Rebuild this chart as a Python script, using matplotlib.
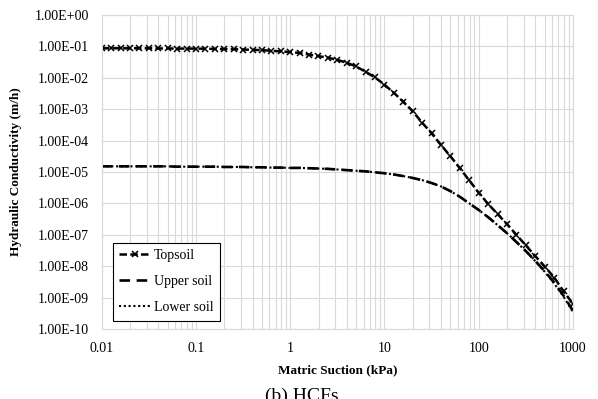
import numpy as np
import matplotlib.pyplot as plt
from matplotlib.ticker import FixedLocator, FuncFormatter, LogLocator, NullFormatter

plt.rcParams['font.family'] = ['Liberation Serif', 'DejaVu Serif']

# matric suction (kPa), log-spaced, 10 points per decade
suction = 10 ** np.round(np.arange(-2.0, 3.01, 0.1), 1)

# -log10 of hydraulic conductivity (m/h)
topsoil_nlog = [1.06, 1.06, 1.06, 1.06, 1.06, 1.06, 1.065, 1.065, 1.07, 1.07,
                1.07, 1.075, 1.08, 1.085, 1.09, 1.10, 1.11, 1.12, 1.14, 1.16,
                1.18, 1.21, 1.26, 1.31, 1.36, 1.43, 1.52, 1.64, 1.81, 1.99,
                2.22, 2.48, 2.76, 3.07, 3.43, 3.77, 4.14, 4.50, 4.88, 5.27,
                5.66, 6.02, 6.34, 6.66, 7.00, 7.34, 7.68, 8.01, 8.36, 8.80,
                9.20]
upper_nlog = [4.82, 4.82, 4.82, 4.82, 4.82, 4.82, 4.82, 4.82, 4.83, 4.83,
              4.83, 4.83, 4.83, 4.84, 4.84, 4.84, 4.85, 4.85, 4.86, 4.86,
              4.87, 4.87, 4.88, 4.89, 4.90, 4.92, 4.94, 4.96, 4.98, 5.01,
              5.04, 5.08, 5.13, 5.19, 5.26, 5.35, 5.46, 5.61, 5.79, 6.00,
              6.21, 6.44, 6.69, 6.95, 7.23, 7.52, 7.83, 8.16, 8.52, 8.94,
              9.42]
lower_nlog = [4.82, 4.82, 4.82, 4.82, 4.82, 4.82, 4.82, 4.82, 4.83, 4.83,
              4.83, 4.83, 4.83, 4.84, 4.84, 4.84, 4.85, 4.85, 4.86, 4.86,
              4.87, 4.87, 4.88, 4.89, 4.90, 4.92, 4.94, 4.96, 4.98, 5.01,
              5.04, 5.08, 5.13, 5.19, 5.26, 5.35, 5.46, 5.61, 5.79, 6.00,
              6.21, 6.44, 6.69, 6.95, 7.23, 7.52, 7.84, 8.18, 8.55, 8.97,
              9.46]

topsoil = 10 ** -np.array(topsoil_nlog)
upper = 10 ** -np.array(upper_nlog)
lower = 10 ** -np.array(lower_nlog)

x_ticks = [0.01, 0.1, 1, 10, 100, 1000]
x_labels = ['0.01', '0.1', '1', '10', '100', '1000']
y_ticks = [10.0 ** k for k in range(-10, 1)]

fig = plt.figure(figsize=(5.98, 3.99), dpi=100)
ax = fig.add_axes([101.7 / 598, 1 - 329 / 399, (573 - 101.7) / 598, (329 - 15) / 399])

ax.plot(suction, topsoil, color='black', ls=(0, (3, 1.3)), lw=1.8,
        marker='x', ms=4.5, mew=1.1, label='Topsoil')
ax.plot(suction, upper, color='black', ls=(0, (4, 2.5)), lw=1.9, label='Upper soil')
ax.plot(suction, lower, color='black', ls=(0, (1, 1.3)), lw=1.5, label='Lower soil')

ax.set_xscale('log')
ax.set_yscale('log')
ax.set_xlim(0.01, 1000)
ax.set_ylim(1e-10, 1)

ax.xaxis.set_major_locator(FixedLocator(x_ticks))
ax.xaxis.set_major_formatter(FuncFormatter(lambda v, p: x_labels[x_ticks.index(v)] if v in x_ticks else ''))
ax.xaxis.set_minor_locator(LogLocator(base=10, subs=np.arange(2, 10)))
ax.xaxis.set_minor_formatter(NullFormatter())
ax.yaxis.set_major_locator(FixedLocator(y_ticks))
ax.yaxis.set_major_formatter(FuncFormatter(lambda v, p: '%.2E' % v))
ax.yaxis.set_minor_locator(FixedLocator([]))

ax.grid(True, which='major', color='#d9d9d9', lw=0.8)
ax.grid(True, which='minor', axis='x', color='#d9d9d9', lw=0.8)
ax.set_axisbelow(True)
for s in ax.spines.values():
    s.set_color('#d9d9d9')
    s.set_linewidth(0.8)
ax.tick_params(which='both', length=0, labelsize=10, colors='black')
ax.tick_params(axis='x', pad=9)
ax.tick_params(axis='y', pad=9)

ax.set_xlabel('Matric Suction (kPa)', fontsize=9.5, fontweight='bold', labelpad=7)
ax.set_ylabel('Hydraulic Conductivity (m/h)', fontsize=9.5, fontweight='bold', labelpad=9)

leg = ax.legend(loc='lower left', bbox_to_anchor=(0.023, 0.027), fontsize=10,
                frameon=True, fancybox=False, edgecolor='black', framealpha=1,
                handlelength=2.3, handletextpad=0.25, borderpad=0.45,
                borderaxespad=0, labelspacing=0.95)
leg.get_frame().set_linewidth(0.8)

fig.text(302 / 598, 1 - 388 / 399, '(b) HCFs', ha='center', va='top', fontsize=14)

fig.savefig('out.png', dpi=100)
